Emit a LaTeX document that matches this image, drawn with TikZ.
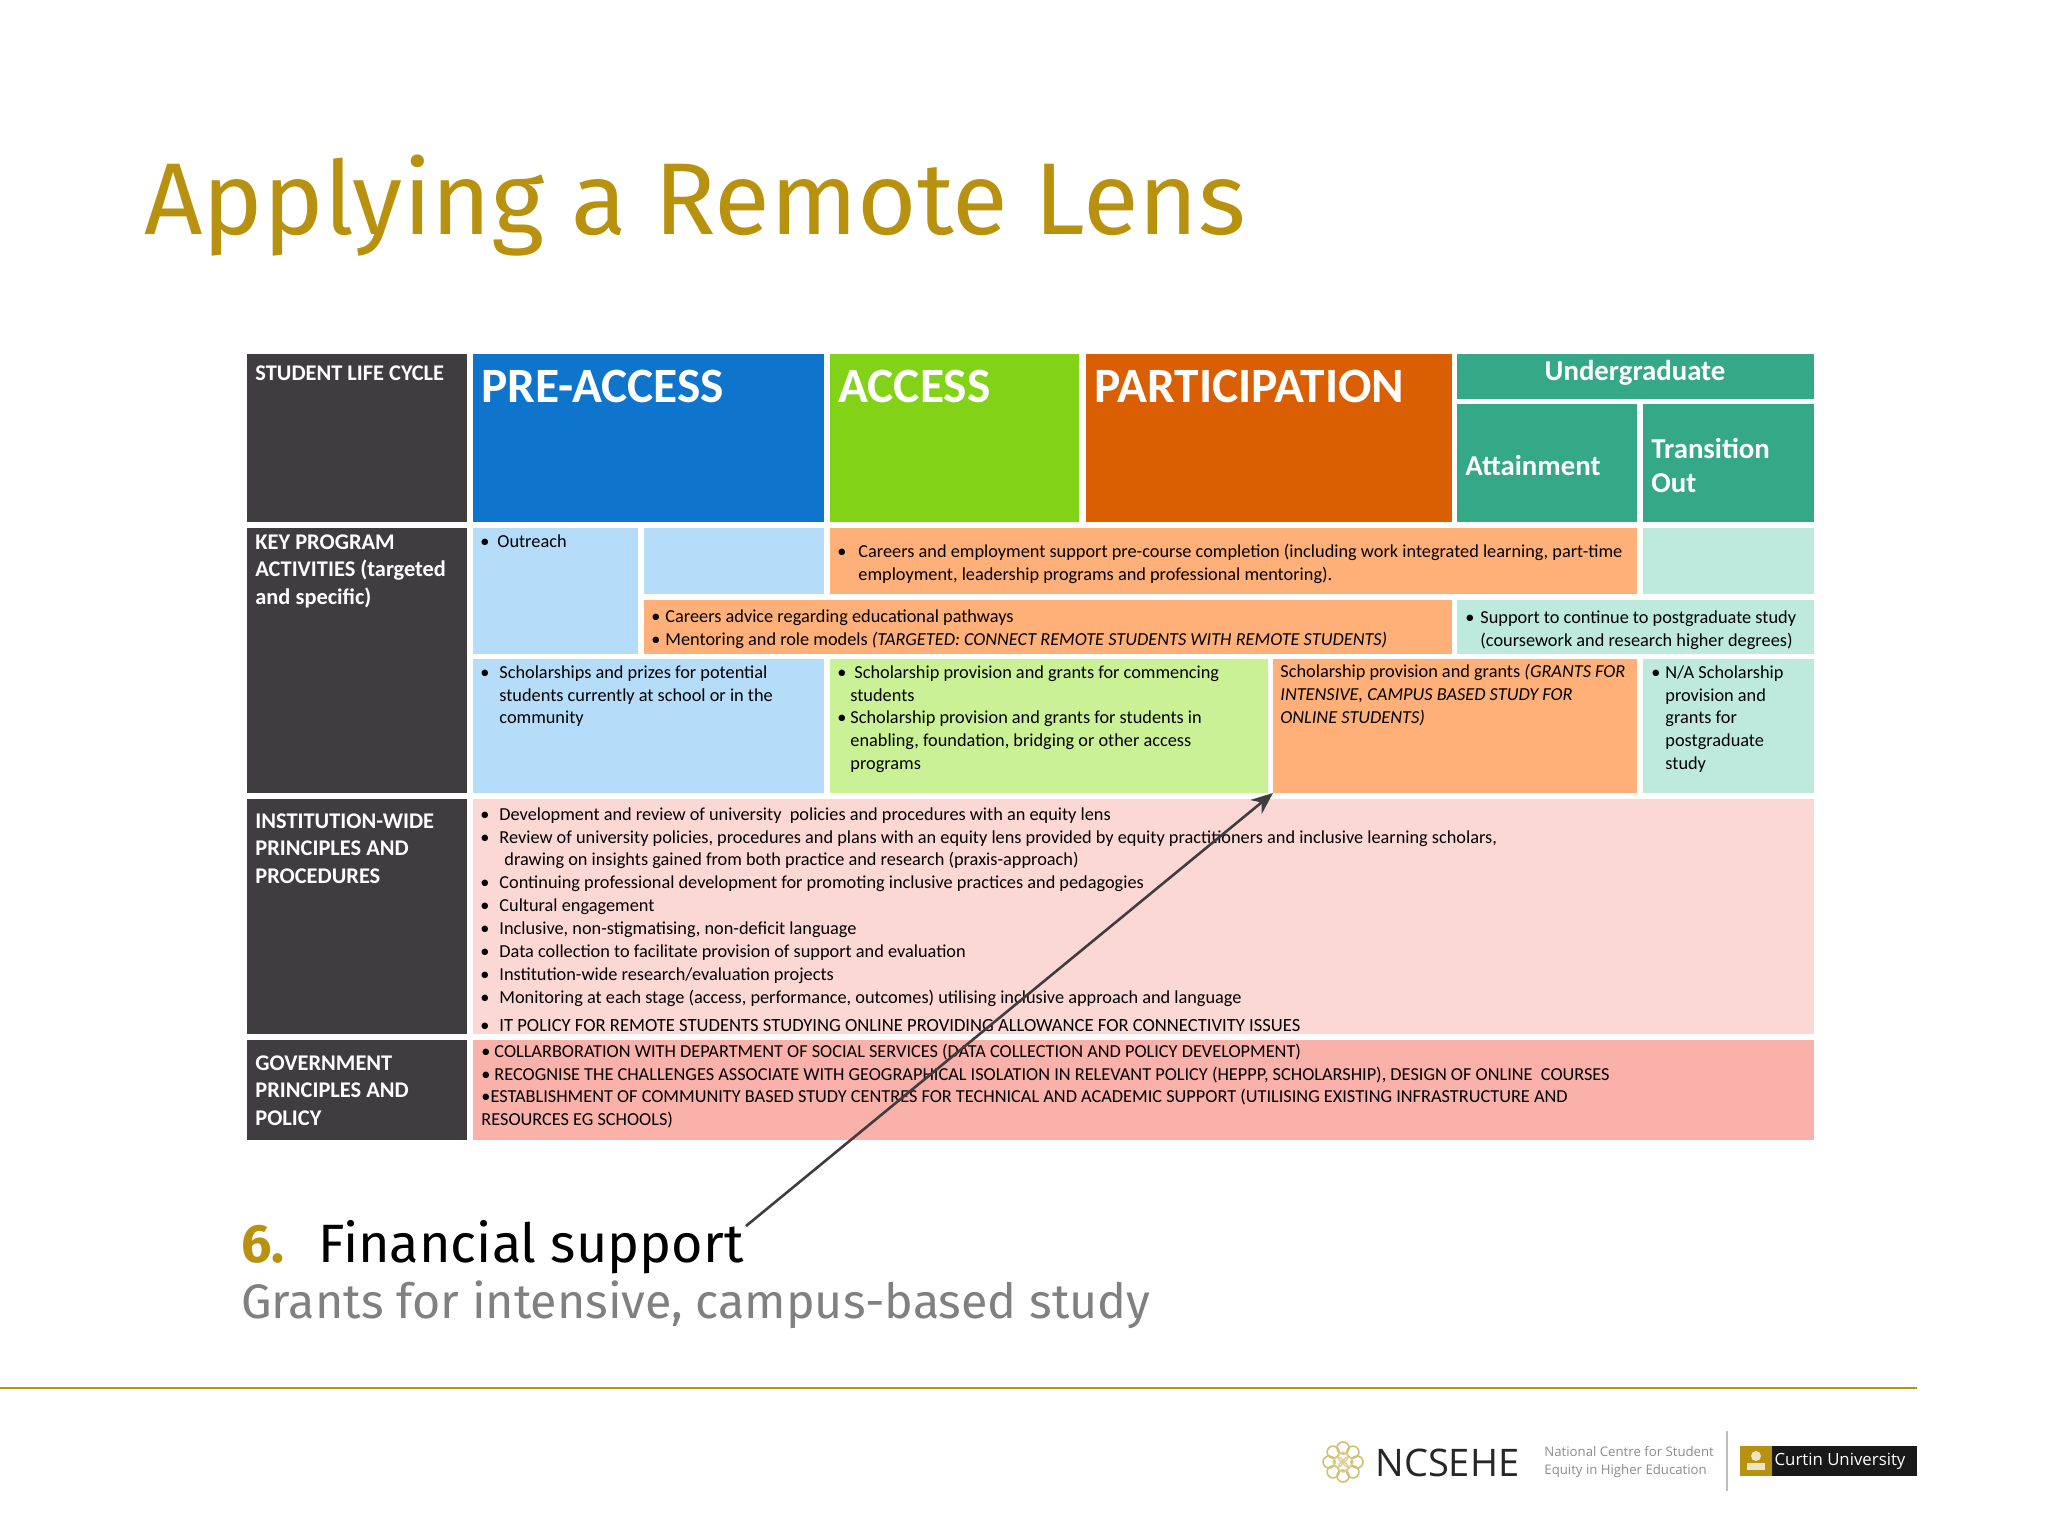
\documentclass[tikz,border=0pt]{standalone}
\usepackage{fontspec}
\usetikzlibrary{arrows.meta}
\setmainfont{Carlito}
\newfontfamily\titlefont{Fira Sans}
\newfontfamily\logofont{Open Sans}
\definecolor{dk}{HTML}{3F3D40}
\definecolor{bl}{HTML}{0F75CC}
\definecolor{gr}{HTML}{82D317}
\definecolor{orr}{HTML}{D95F02}
\definecolor{te}{HTML}{35A888}
\definecolor{lbl}{HTML}{B5DCF9}
\definecolor{lor}{HTML}{FFAF78}
\definecolor{lte}{HTML}{BDEADC}
\definecolor{lgr}{HTML}{CBF197}
\definecolor{pk}{HTML}{FCD8D5}
\definecolor{sal}{HTML}{F9B1A9}
\definecolor{gold}{HTML}{B8920F}
\newcommand\cellbox[6]{\node[cell,fill=#6,minimum width={(#4-#2)*0.5pt},minimum height={(#5-#3)*0.5pt}] (#1) at (#2,#3) {};}
\newcommand\bl[2]{\makebox[\dimexpr0.5pt*#1\relax][l]{•}#2}
\newcommand\ind[2]{\hspace*{\dimexpr0.5pt*#1\relax}#2}
\tikzset{
 cell/.style={anchor=north west,inner sep=0,outer sep=0,draw=none},
 side/.style={anchor=north west,inner sep=0,align=left,text=white,font=\fontsize{11.2}{13.8}\selectfont\bfseries},
 big/.style={anchor=north west,inner sep=0,text=white,font=\fontsize{24.7}{30}\selectfont\bfseries},
 mid/.style={inner sep=0,align=left,text=white,font=\fontsize{14.4}{17}\selectfont\bfseries},
 body/.style={anchor=north west,inner sep=0,align=left,text=black,font=\fontsize{9.15}{11.45}\selectfont},
}
\begin{document}
\begin{tikzpicture}[x=0.5pt,y=-0.5pt]
\useasboundingbox (0,0) rectangle (2048,1536);
\fill[white] (0,0) rectangle (2048,1536);
% title
\node[anchor=base west,inner sep=0,text=gold,font=\titlefont\fontsize{51}{60}\selectfont] (title) at (144,234) {Applying a Remote Lens};
% header row
\cellbox{slc}{247}{354}{467}{522}{dk}
\cellbox{pre}{473}{354}{824}{522}{bl}
\cellbox{acc}{830}{354}{1079}{522}{gr}
\cellbox{par}{1086}{354}{1452}{522}{orr}
\cellbox{und}{1457}{354}{1814}{399}{te}
\cellbox{att}{1457}{404}{1637}{522}{te}
\cellbox{tra}{1643}{404}{1814}{522}{te}
% key programs
\cellbox{key}{247}{528}{467}{793}{dk}
\cellbox{out}{473}{528}{638}{654}{lbl}
\cellbox{blank}{644}{528}{824}{594}{lbl}
\cellbox{care}{830}{528}{1637}{594}{lor}
\cellbox{blankt}{1643}{528}{1814}{594}{lte}
\cellbox{adv}{644}{600}{1452}{654}{lor}
\cellbox{sup}{1457}{600}{1814}{654}{lte}
\cellbox{sch}{473}{659}{824}{793}{lbl}
\cellbox{schg}{830}{659}{1268}{793}{lgr}
\cellbox{grants}{1273}{659}{1637}{793}{lor}
\cellbox{na}{1643}{659}{1814}{793}{lte}
% institution and government
\cellbox{inst}{247}{799}{467}{1034}{dk}
\cellbox{instb}{473}{799}{1814}{1034}{pk}
\cellbox{gov}{247}{1040}{467}{1140}{dk}
\cellbox{govb}{473}{1040}{1814}{1140}{sal}
% labels
\node[side] (t1) at (255,365) {STUDENT LIFE CYCLE};
\node[side] (t2) at (255,534) {KEY PROGRAM\\ACTIVITIES (targeted\\and specific)};
\node[side] (t3) at (255,813) {INSTITUTION-WIDE\\PRINCIPLES AND\\PROCEDURES};
\node[side] (t4) at (255,1055) {GOVERNMENT\\PRINCIPLES AND\\POLICY};
\node[big] (t5) at (481,370) {PRE-ACCESS};
\node[big] (t6) at (838,370) {ACCESS};
\node[big] (t7) at (1094,370) {PARTICIPATION};
\node[mid] (t8) at (1635,373) {Undergraduate};
\node[mid,anchor=west] (t9) at (1465,465) {Attainment};
\node[mid,anchor=west] (t10) at (1651,465) {Transition\\Out};
% body
\node[body] (b1) at (480,534) {\bl{17}{Outreach}};
\node[body] (b2) at (837,544) {\bl{21}{Careers and employment support pre-course completion (including work integrated learning, part-time}\\\ind{21}{employment, leadership programs and professional mentoring).}};
\node[body] (b3) at (651,609) {\bl{14}{Careers advice regarding educational pathways}\\\bl{14}{Mentoring and role models \textit{(TARGETED: CONNECT REMOTE STUDENTS WITH REMOTE STUDENTS)}}};
\node[body] (b4) at (1465,610) {\bl{15}{Support to continue to postgraduate study}\\\ind{15}{(coursework and research higher degrees)}};
\node[body] (b5) at (480,665) {\bl{19}{Scholarships and prizes for potential}\\\ind{19}{students currently at school or in the}\\\ind{19}{community}};
\node[body] (b6) at (837,665) {\bl{17}{Scholarship provision and grants for commencing}\\\ind{13}{students}\\\bl{13}{Scholarship provision and grants for students in}\\\ind{13}{enabling, foundation, bridging or other access}\\\ind{13}{programs}};
\node[body] (b7) at (1280,664) {Scholarship provision and grants \textit{(GRANTS FOR}\\\textit{INTENSIVE, CAMPUS BASED STUDY FOR}\\\textit{ONLINE STUDENTS)}};
\node[body] (b8) at (1651,665) {\bl{14}{N/A Scholarship}\\\ind{14}{provision and}\\\ind{14}{grants for}\\\ind{14}{postgraduate}\\\ind{14}{study}};
\node[body] (b9) at (480,807) {\bl{19}{Development and review of university\ \ policies and procedures with an equity lens}\\
\bl{19}{Review of university policies, procedures and plans with an equity lens provided by equity practitioners and inclusive learning scholars,}\\
\ind{24}{drawing on insights gained from both practice and research (praxis-approach)}\\
\bl{19}{Continuing professional development for promoting inclusive practices and pedagogies}\\
\bl{19}{Cultural engagement}\\
\bl{19}{Inclusive, non-stigmatising, non-deficit language}\\
\bl{19}{Data collection to facilitate provision of support and evaluation}\\
\bl{19}{Institution-wide research/evaluation projects}\\
\bl{19}{Monitoring at each stage (access, performance, outcomes) utilising inclusive approach and language}\\[2.5pt]
\bl{19}{\fontsize{9.3}{11}\selectfont IT POLICY FOR REMOTE STUDENTS STUDYING ONLINE PROVIDING ALLOWANCE FOR CONNECTIVITY ISSUES}};
\node[body,font=\fontsize{9.15}{11.2}\selectfont] (b10) at (481,1044) {\bl{13}{COLLARBORATION WITH DEPARTMENT OF SOCIAL SERVICES (DATA COLLECTION AND POLICY DEVELOPMENT)}\\
\bl{13}{RECOGNISE THE CHALLENGES ASSOCIATE WITH GEOGRAPHICAL ISOLATION IN RELEVANT POLICY (HEPPP, SCHOLARSHIP), DESIGN OF ONLINE\ \ COURSES}\\
•ESTABLISHMENT OF COMMUNITY BASED STUDY CENTRES FOR TECHNICAL AND ACADEMIC SUPPORT (UTILISING EXISTING INFRASTRUCTURE AND\\
RESOURCES EG SCHOOLS)};
% lower text
\node[anchor=base west,inner sep=0,text=gold,font=\titlefont\bfseries\fontsize{27}{30}\selectfont] (six) at (241,1262) {6.};
\node[anchor=base west,inner sep=0,text=black,font=\titlefont\fontsize{27}{30}\selectfont] (fin) at (318,1262) {Financial support};
\node[anchor=base west,inner sep=0,text=black!50,font=\titlefont\fontsize{24.2}{30}\selectfont] (gra) at (241,1318) {Grants for intensive, campus-based study};
% arrow
\coordinate (astart) at (746,1226);
\draw[-{Stealth[length=11pt,width=9pt]},line width=1.3pt,color=dk] (astart) -- (grants.south west);
% footer
\coordinate (r1) at (0,1388);
\coordinate (r2) at (1917,1388);
\draw[gold,line width=1pt] (r1) -- (r2);
\foreach \a in {0,45,...,315}{\draw[gold!60,line width=0.8pt] ({1343+14*cos(\a)},{1462+14*sin(\a)}) circle[radius=6];}
\foreach \a in {0,90,...,270}{\draw[gold!45,line width=0.7pt] ({1343+5*cos(\a)},{1462+5*sin(\a)}) circle[radius=5];}
\node[anchor=west,inner sep=0,text=black!85,font=\logofont\fontsize{19}{22}\selectfont] (nc) at (1375,1463) {NCSEHE};
\node[anchor=west,inner sep=0,align=left,text=black!45,font=\logofont\fontsize{6.6}{8.6}\selectfont] (nct) at (1544,1462) {National Centre for Student\\Equity in Higher Education};
\coordinate (d1) at (1727,1431);
\coordinate (d2) at (1727,1491);
\draw[black!25,line width=0.6pt] (d1) -- (d2);
\cellbox{cg}{1740}{1446}{1772}{1476}{gold}
\cellbox{cb}{1772}{1446}{1917}{1476}{black!90}
\node[inner sep=0,text=white,font=\logofont\fontsize{8.4}{10}\selectfont] (cu) at (1840,1461) {Curtin University};
\fill[white!75!gold] (1756,1456) circle[radius=5];
\fill[white!75!gold] (1747,1463) rectangle (1765,1470);
\end{tikzpicture}
\end{document}
